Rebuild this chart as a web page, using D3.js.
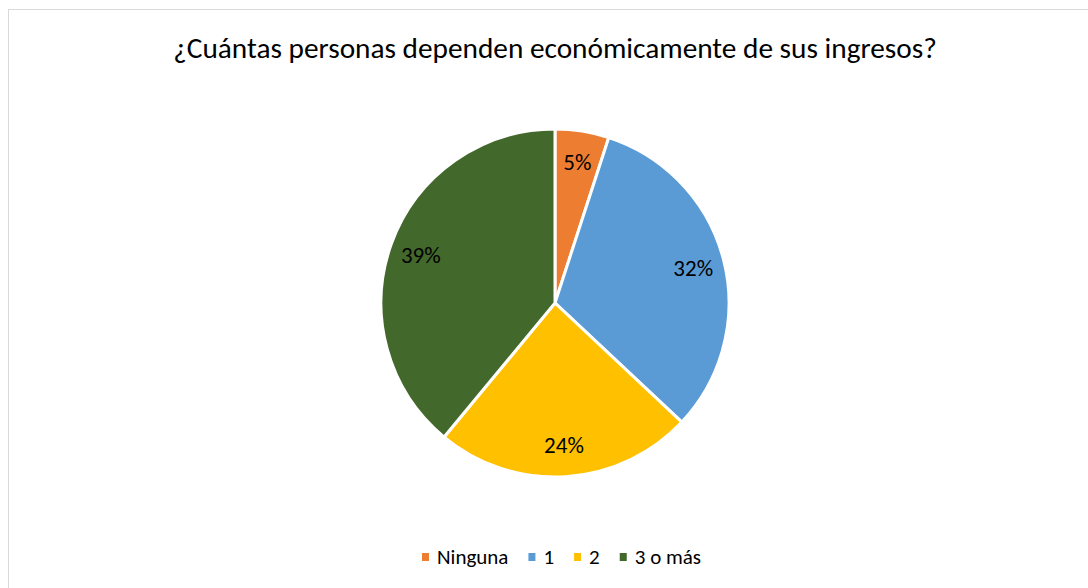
<!DOCTYPE html>
<html><head><meta charset="utf-8">
<script src="https://cdn.jsdelivr.net/npm/d3@7"></script>
<style>body{margin:0;background:#fff;}svg{display:block;}</style>
</head><body>
<svg id="c" width="1088" height="588"></svg>
<script>
const title = "¿Cuántas personas dependen económicamente de sus ingresos?";
const categories = ["Ninguna", "1", "2", "3 o más"];
const values = [5, 32, 24, 39];
const colors = ["#ED7D31", "#5B9BD5", "#FFC000", "#43682B"];

const svg = d3.select("#c");
const font = "Carlito, Lato, 'Open Sans', sans-serif";
svg.append("rect").attr("x", 8.5).attr("y", 9.5).attr("width", 1090).attr("height", 590)
  .attr("fill", "#fff").attr("stroke", "#d9d9d9").attr("stroke-width", 1);

svg.append("text").attr("x", 555).attr("y", 58).attr("text-anchor", "middle")
  .style("font-family", font).style("font-size", "29.3px").attr("fill", "#000").text(title);

const cx = 555, cy = 303, R = 174;
const pie = d3.pie().sort(null).value(d => d)(values);
const arc = d3.arc().innerRadius(0).outerRadius(R);
const labelArc = d3.arc().innerRadius(R * 0.82).outerRadius(R * 0.82);
const g = svg.append("g").attr("transform", `translate(${cx},${cy})`);
g.selectAll("path").data(pie).join("path").attr("d", arc)
  .attr("fill", (d, i) => colors[i]).attr("stroke", "#fff").attr("stroke-width", 3);
const total = d3.sum(values);
g.selectAll("text").data(pie).join("text")
  .attr("transform", d => `translate(${labelArc.centroid(d)})`)
  .attr("text-anchor", "middle").attr("dy", "0.35em")
  .style("font-family", font).style("font-size", "23px").attr("fill", "#000")
  .text(d => Math.round(d.data / total * 100) + "%");

// legend
const lg = svg.append("g");
let x = 422;
const ly = 557;
const items = lg.selectAll("g").data(categories).join("g");
items.each(function(d, i) {
  const it = d3.select(this);
  it.append("rect").attr("x", 0).attr("y", -4).attr("width", 7).attr("height", 8).attr("fill", colors[i]);
  it.append("text").attr("x", 15).attr("y", 0).attr("dy", "0.35em")
    .style("font-family", font).style("font-size", "21px").attr("fill", "#000").text(d);
});
items.attr("transform", function(d, i) {
  const t = `translate(${x},${ly})`;
  const w = d3.select(this).select("text").node().getComputedTextLength();
  x += 15 + w + 20;
  return t;
});
</script>
</body></html>
